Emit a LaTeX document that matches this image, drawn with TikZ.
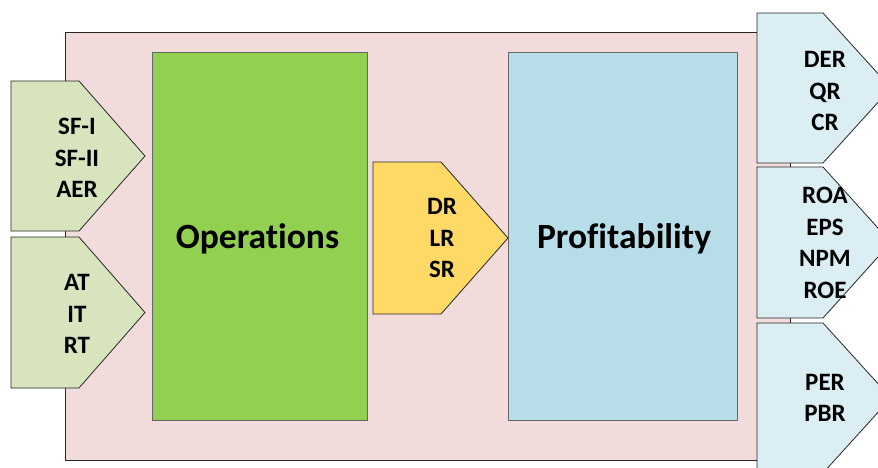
\documentclass[tikz,border=0pt]{standalone}
\usepackage{fontspec}
\setmainfont{Carlito}[Ligatures={NoCommon}]
\definecolor{pinkbg}{HTML}{F2DCDB}
\definecolor{opgreen}{HTML}{92D050}
\definecolor{chevgreen}{HTML}{D7E4BD}
\definecolor{chevyellow}{HTML}{FFD966}
\definecolor{profblue}{HTML}{B7DDE8}
\definecolor{chevblue}{HTML}{DBEEF3}
\begin{document}
\begin{tikzpicture}[x=1pt,y=-1pt,
  outline/.style={draw=black!85, line width=0.8pt},
  smalllbl/.style={font=\fontsize{25}{31.5}\selectfont\bfseries, align=center, inner sep=0pt},
  biglbl/.style={font=\fontsize{35.5}{40}\selectfont\bfseries, inner sep=0pt, anchor=base}]
\useasboundingbox (0,0) rectangle (878,467);
\clip (0,0) rectangle (878,467);
% background panel
\path[outline, fill=pinkbg] (65,32) rectangle (790,460);
% main boxes
\path[draw=black!60, line width=0.6pt, fill=opgreen] (152,52) rectangle (367,420);
\path[draw=black!60, line width=0.6pt, fill=profblue] (508,52) rectangle (737,420);
\node[biglbl] (ops) at (257.5,248) {Operations};
\node[biglbl] (prof) at (624,248) {Profitability};
% left chevrons
\path[outline, fill=chevgreen] (11,81) -- (79,81) -- (145,156) -- (79,231) -- (11,231) -- cycle;
\path[outline, fill=chevgreen] (11,237) -- (79,237) -- (145,312.5) -- (79,388) -- (11,388) -- cycle;
\node[smalllbl] (in1) at (77,158) {SF-I\\SF-II\\AER};
\node[smalllbl] (in2) at (77,314) {AT\\IT\\RT};
% middle chevron
\path[outline, fill=chevyellow] (373,162) -- (441,162) -- (508,238) -- (441,314) -- (373,314) -- cycle;
\node[smalllbl] (mid) at (442,238) {DR\\LR\\SR};
% right chevrons
\path[outline, fill=chevblue] (757,13) -- (823,13) -- (891,88) -- (823,163) -- (757,163) -- cycle;
\path[outline, fill=chevblue] (757,167) -- (823,167) -- (891,242.5) -- (823,318) -- (757,318) -- cycle;
\path[outline, fill=chevblue] (757,323) -- (823,323) -- (891,398) -- (823,473) -- (757,473) -- cycle;
\node[smalllbl] (out1) at (825,91) {DER\\QR\\CR};
\node[smalllbl] (out2) at (825,243) {ROA\\EPS\\NPM\\ROE};
\node[smalllbl] (out3) at (825,398) {PER\\PBR};
\end{tikzpicture}
\end{document}
